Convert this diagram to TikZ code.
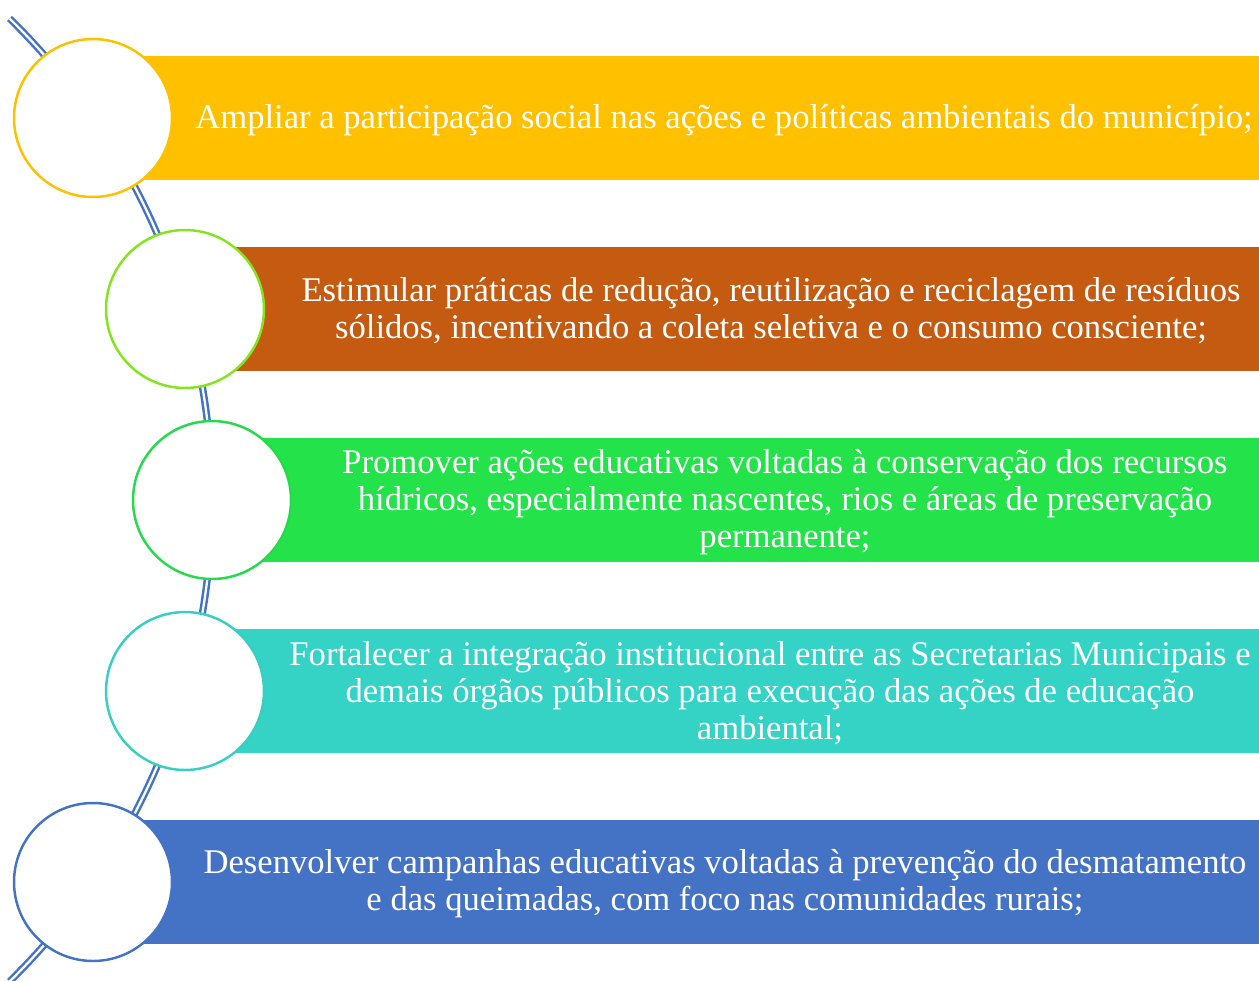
\documentclass[tikz,border=0pt]{standalone}
\usepackage{fontspec}
\setmainfont{Liberation Serif}
\usetikzlibrary{positioning}
\definecolor{lineblue}{HTML}{4472C4}
\definecolor{yellowbar}{HTML}{FFC000}
\definecolor{orangebar}{HTML}{C55A11}
\definecolor{greenbar}{HTML}{24E24A}
\definecolor{tealbar}{HTML}{35D3C6}
\definecolor{limering}{HTML}{84E41E}
\definecolor{greenring}{HTML}{26DA4C}
\definecolor{tealring}{HTML}{38CFC2}
\tikzset{
    ring/.style={circle, draw=#1, fill=white, line width=1.4pt, minimum size=3.16cm, inner sep=0pt},
    bar/.style={rectangle, fill=#1, anchor=west, minimum height=2.48cm, inner sep=0pt},
    txt/.style={text=white, align=center, font=\fontsize{19.7}{21}\selectfont, inner sep=0pt}
}
\begin{document}
\begin{tikzpicture}[x=0.02cm, y=-0.02cm]
        \useasboundingbox (0,0) rectangle (1259,981);
        % bars
        \node[bar=yellowbar, minimum width=23.32cm] (b1) at (93,118) {};
        \node[bar=orangebar, minimum width=21.48cm] (b2) at (185,309) {};
        \node[bar=greenbar, minimum width=20.94cm] (b3) at (212,500) {};
        \node[bar=tealbar, minimum width=21.48cm] (b4) at (185,691) {};
        \node[bar=lineblue, minimum width=23.32cm] (b5) at (93,882) {};
        % the double line behind the circles
        \coordinate (mid) at (-462,500);
        \draw[lineblue, line width=1.4pt, double=white, double distance=1.3pt]
            ([shift={(45.6:674)}]mid) arc (45.6:-45.6:674);
        % circles
        \node[ring=yellowbar] (c1) at (93,118) {};
        \node[ring=limering] (c2) at (185,309) {};
        \node[ring=greenring] (c3) at (212,500) {};
        \node[ring=tealring] (c4) at (185,691) {};
        \node[ring=lineblue] (c5) at (93,882) {};
        % texts
        \node[txt] (t1) at (724,120) {Ampliar a participação social nas ações e políticas ambientais do município;};
        \node[txt] (t2) at (771,311) {Estimular práticas de redução, reutilização e reciclagem de resíduos\\sólidos, incentivando a coleta seletiva e o consumo consciente;};
        \node[txt] (t3) at (785,502) {Promover ações educativas voltadas à conservação dos recursos\\hídricos, especialmente nascentes, rios e áreas de preservação\\permanente;};
        \node[txt] (t4) at (770,693) {Fortalecer a integração institucional entre as Secretarias Municipais e\\demais órgãos públicos para execução das ações de educação\\ambiental;};
        \node[txt] (t5) at (725,884) {Desenvolver campanhas educativas voltadas à prevenção do desmatamento\\e das queimadas, com foco nas comunidades rurais;};
    \end{tikzpicture}
\end{document}
